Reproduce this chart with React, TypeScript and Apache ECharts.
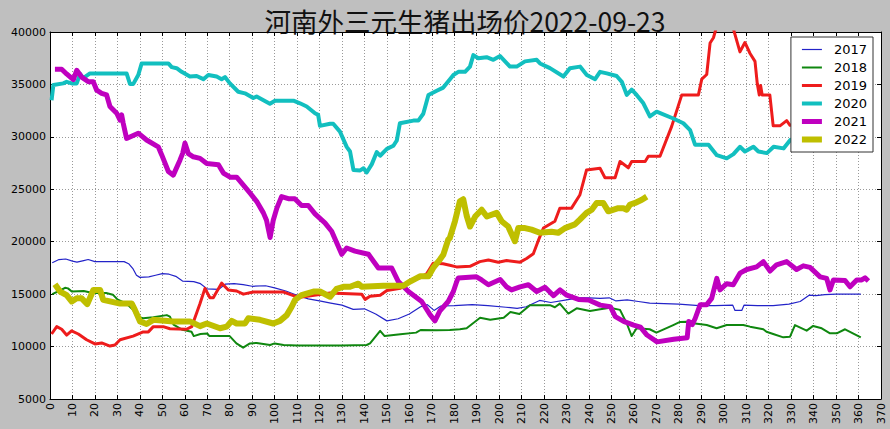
import React, { useEffect, useRef } from "react";
import * as echarts from "echarts";

// Daily pig price (元/吨) in Henan, indexed by day of year: [day, price]
const years = ["2017", "2018", "2019", "2020", "2021", "2022"];

const price2017: [number, number][] = [
  [1, 18000], [4, 18300], [7, 18350], [10, 18150], [12, 18050], [15, 18200], [17, 18300], [20, 18100],
  [25, 18100], [30, 18100], [33, 18100], [35, 17900], [37, 17400], [38.5, 16800], [40, 16600], [44, 16650],
  [47, 16800], [50, 16950], [53, 16900], [56, 16700], [59, 16250], [64, 16200], [67, 16000], [70, 15500],
  [75, 15450], [78, 15950], [82, 16000], [86, 15900], [90, 15750], [96, 15800], [100, 15600], [105, 15300],
  [110, 14900], [115, 14550], [120, 14350], [125, 14150], [130, 13950], [135, 13550], [140, 13600],
  [145, 13100], [150, 12450], [155, 12650], [160, 13100], [165, 13800], [168, 14000], [171, 13450],
  [174, 13870], [180, 13900], [188, 14000], [195, 13900], [203, 13750], [208, 13650], [212, 13800],
  [218, 14400], [223, 14200], [230, 14450], [235, 14650], [240, 14650], [245, 14600], [249, 14650],
  [252, 14350], [257, 14450], [262, 14300], [267, 14150], [280, 14050], [289, 13900], [296, 13900],
  [304, 13950], [305, 13450], [308, 13450], [309, 13950], [315, 13900], [322, 13900], [329, 14050],
  [334, 14300], [338, 14900], [341, 14850], [345, 14950], [350, 15000], [361, 15000],
];

const price2018: [number, number][] = [
  [1, 15000], [4, 15300], [6.7, 15600], [8, 15550], [9.7, 15250], [15, 15300], [19, 15100], [25, 15100],
  [28, 14950], [30, 14500], [34, 14100], [37, 13500], [38.6, 12850], [41.5, 12700], [46, 12800], [52, 13000],
  [53.4, 12850], [55, 12100], [59, 11600], [63, 11420], [64, 11000], [67, 11200], [70, 11250], [71, 11000],
  [80, 11000], [83, 10300], [86, 9900], [89, 10300], [92, 10350], [98, 10150], [100, 10300], [104, 10150],
  [110, 10100], [120, 10100], [130, 10100], [141, 10150], [142.5, 10300], [147, 11500], [149, 11000],
  [156, 11170], [163, 11330], [165, 11580], [172, 11550], [178, 11580], [182.5, 11650], [185.5, 11750],
  [191.5, 12750], [196, 12550], [202, 12750], [205, 13300], [209, 13100], [213.7, 13950], [222.6, 13950],
  [224.8, 13750], [227, 14100], [230.8, 13150], [234.5, 13650], [240.4, 13400], [245, 13550],
  [249.3, 13700], [253.8, 13500], [256.8, 12200], [259, 11000], [261.2, 11750], [267, 11650],
  [270, 11330], [277.5, 12050], [280.5, 12350], [283.4, 12370], [286.4, 12220], [292.4, 12060],
  [296.8, 11750], [301.3, 12050], [308.7, 12050], [311.7, 11900], [317.6, 11650], [319, 11420],
  [322, 11200], [326.5, 10880], [329.5, 10940], [331.7, 12050], [336.9, 11520], [339.8, 11970],
  [343.6, 11740], [347.3, 11260], [350.3, 11260], [354, 11650], [361, 10880],
];

const price2019: [number, number][] = [
  [0.7, 11200], [3, 11900], [5.2, 11650], [7.4, 11100], [9.6, 11500], [12.6, 11200], [16.3, 10650],
  [20, 10250], [23, 10350], [26.7, 10050], [28.9, 10150], [31.2, 10650], [37, 11000], [41.5, 11400],
  [43.8, 11400], [46, 11900], [50.4, 11900], [53.4, 11700], [60.8, 11650], [63.1, 11900], [66.8, 14100],
  [69, 15550], [71.2, 14650], [72.7, 14650], [76.4, 16050], [79.4, 15400], [83.1, 15300], [86.1, 15000],
  [90.5, 15200], [104, 15200], [108.4, 14850], [111.3, 14700], [124.7, 15100], [138.8, 15000],
  [140.3, 14500], [142.5, 14800], [147, 14900], [150, 15350], [156, 15550], [160.3, 16300],
  [164.7, 16550], [167.7, 16950], [170.6, 17950], [175, 17900], [178, 17750], [181, 17600], [187, 17650],
  [191.4, 18100], [195.2, 18250], [199.6, 18050], [203.3, 18200], [209.3, 18050], [212.2, 18400],
  [215.2, 18850], [217.4, 20100], [219.7, 21300], [224.8, 21950], [227, 23200], [232.2, 23200],
  [235.9, 24450], [238.9, 26850], [244.9, 27000], [247.1, 26100], [251.6, 26100], [253.8, 27650],
  [257.5, 27050], [259, 27650], [265, 27650], [266.4, 28150], [271.6, 28150], [276.8, 31000],
  [281.3, 34000], [288.7, 34000], [290.2, 35500], [292.4, 35950], [293.9, 38950], [295.4, 39450],
  [296.8, 40500], [304, 40500], [307.2, 38100], [309.4, 39000], [311.7, 37950], [313.9, 37200],
  [314.9, 35100], [315.8, 34000], [316.4, 34900], [317.1, 34000], [320.5, 34000], [322, 31050],
  [325, 31050], [328, 31550], [329.5, 31100], [335, 31200], [345, 31300],
];

const price2020: [number, number][] = [
  [0.7, 33500], [1.5, 34950], [5.9, 35100], [7.4, 35250], [9.7, 35100], [11.9, 35100], [13.4, 36000],
  [14.8, 35600], [17.8, 36050], [34.1, 36050], [35.6, 35050], [37.1, 35050], [39.3, 35900], [40.8, 37000],
  [52.7, 37000], [54.2, 36650], [56.4, 36550], [58.6, 36200], [62.3, 35750], [65.3, 35800], [68.3, 35500],
  [70.5, 35900], [74.2, 35750], [76.4, 35500], [77.9, 35700], [80.1, 35100], [83.8, 34300], [86.8, 34150],
  [90.5, 33700], [92, 33850], [97.9, 33150], [100.2, 33450], [108.4, 33450], [111.3, 33200],
  [114.3, 32900], [118, 32250], [119.4, 32100], [120.2, 31050], [124.7, 31250], [126.1, 31250],
  [129.1, 30500], [132.1, 29050], [133.6, 28600], [135.1, 26850], [138.1, 26800], [139.6, 27000],
  [141, 26600], [143.3, 27400], [145.5, 28550], [147, 28200], [150, 28850], [152.9, 29150],
  [154.4, 29650], [155.8, 31300], [161.8, 31550], [164, 31550], [166.2, 32200], [168.5, 34000],
  [172.2, 34400], [175.1, 34700], [178.1, 35500], [179.6, 35900], [181.8, 36200], [184.8, 36200],
  [187, 36700], [188.5, 37800], [190.7, 37500], [194.4, 37600], [197.4, 37350], [200.4, 37700],
  [204.8, 36700], [207.8, 36700], [211.5, 37200], [216.7, 37350], [218.2, 37000], [222.6, 36550],
  [228.6, 35750], [231.5, 36550], [236, 36700], [239, 35900], [242.7, 35500], [244.9, 36200],
  [247.9, 36050], [252.3, 35800], [254.6, 35250], [256.8, 34000], [259, 34500], [261.2, 34000],
  [264.2, 33200], [267.1, 31950], [270.1, 32400], [277.5, 31750], [282, 31300], [285, 30650],
  [287.2, 29250], [289.4, 29250], [293.2, 29250], [296.9, 28250], [301.3, 27950], [304.3, 28350],
  [307.2, 29050], [309.4, 28600], [313.2, 29050], [315.4, 28600], [319.2, 28450], [322.2, 29050],
  [326.6, 28900], [329.6, 29700], [335, 30000], [345, 30200],
];

const price2021: [number, number][] = [
  [2.2, 36450], [5.2, 36450], [7.4, 36000], [10.4, 35450], [11.9, 36350], [14.1, 35700], [17.1, 35250],
  [19.3, 35250], [20.8, 34450], [23, 34150], [25.2, 34000], [26.7, 32900], [29.7, 32250], [31.2, 31600],
  [31.9, 32100], [32.6, 31300], [34.1, 29850], [39.3, 30350], [43, 29700], [48.2, 29050], [49.7, 28300],
  [52.7, 26700], [54.9, 26350], [57.9, 27800], [59.1, 28450], [60.1, 29400], [61.6, 28400], [63.8, 28100],
  [66.8, 27950], [69.8, 27450], [75, 27350], [77.2, 26550], [80.2, 26150], [83.1, 26150], [86.1, 25400],
  [89, 24650], [92, 23850], [95, 22750], [96.4, 22050], [98, 20400], [99.4, 22050], [101, 23200],
  [103.1, 24300], [106.1, 24100], [109, 24100], [112, 23450], [115, 23450], [118, 22650], [122.4, 21800],
  [125.4, 21000], [129.9, 18800], [132.1, 19400], [135.8, 19100], [141.8, 18800], [146.2, 17500],
  [152.1, 17500], [155.1, 16200], [159.6, 15250], [165.5, 14300], [169.2, 13050], [171.4, 12450],
  [173.6, 13400], [177.3, 14300], [179.6, 15250], [181.1, 16200], [181.8, 16550], [189.9, 16650],
  [192.2, 16350], [195.2, 15900], [200.4, 16400], [203.3, 15700], [205.5, 15400], [209.3, 15700],
  [213, 15900], [216.7, 15250], [220.4, 15650], [224.2, 14850], [227.1, 15400], [230.1, 14900],
  [235.3, 14500], [239.8, 14450], [245, 13950], [249.5, 13800], [251.7, 12850], [255.4, 12400],
  [259.9, 12050], [262.9, 11850], [265.8, 11100], [270.3, 10450], [277.7, 10700], [283.7, 10850],
  [284.4, 12400], [286, 12100], [287.3, 12700], [289.5, 14000], [292.4, 14000], [294.6, 14600],
  [296.9, 16500], [298.3, 15400], [301.3, 16000], [304.2, 15900], [307.2, 17000], [310.2, 17350],
  [314.6, 17600], [317.6, 18100], [320.6, 17200], [323.5, 17800], [328, 18100], [332.4, 17350],
  [335.4, 17700], [338.4, 17550], [342.9, 16650], [345.8, 16500], [347.3, 15400], [348.8, 16350],
  [354, 16300], [356.2, 15700], [359.2, 16350], [361.4, 16350], [362.9, 16550], [364.4, 16250],
];

const price2022: [number, number][] = [
  [2.2, 15950], [4.5, 15250], [7.4, 14900], [9.7, 14300], [11.9, 14600], [14.1, 14600], [16.6, 14050],
  [19.3, 15400], [22.3, 15400], [23.7, 14450], [31.2, 14100], [36.4, 14100], [37.8, 13500], [40.1, 12400],
  [43, 12150], [46, 12550], [54.9, 12400], [62.3, 12400], [66.8, 11950], [69.8, 12200], [75.7, 11750],
  [78.7, 11900], [80.9, 12450], [83.1, 12200], [86.8, 12200], [88.3, 12700], [93.5, 12550], [99.4, 12200],
  [102.4, 12450], [105.4, 13000], [107.6, 13800], [109.1, 14450], [112, 14900], [117.3, 15250],
  [120.2, 15250], [124.7, 14750], [127.6, 15500], [130.6, 15700], [133.6, 15700], [137.3, 16000],
  [138.8, 15700], [148.4, 15800], [157.4, 15800], [160.3, 16200], [164.7, 16700], [168.5, 16700],
  [170.6, 17500], [173.6, 18300], [175.1, 18750], [177.3, 20200], [178, 20350], [180.3, 21950],
  [182.5, 23850], [184, 24050], [185.5, 22500], [187, 21450], [189.3, 22400], [192.2, 23050],
  [194.5, 22400], [198.9, 22750], [201.1, 21950], [204, 21450], [207, 20050], [208.5, 21300],
  [211.5, 21300], [214.4, 21150], [218.1, 20850], [223.3, 20950], [226.3, 20850], [229.3, 21300],
  [233.7, 21650], [235.9, 22100], [238.9, 22750], [241.2, 23050], [243.4, 23700], [246.3, 23700],
  [248.6, 22900], [253, 23200], [255.3, 23200], [256.8, 23050], [258.3, 23550], [260.5, 23700],
  [263.5, 24000], [265.7, 24300],
];

const seriesData = [price2017, price2018, price2019, price2020, price2021, price2022];
const lineColors = ["#2323c8", "#0f870f", "#ee1c1c", "#12bfbf", "#bf00bf", "#bfbf00"];
const lineWidths = [1.2, 2, 3, 4, 5, 6];

const titleText = "河南外三元生猪出场价2022-09-23";
const xTicks = { min: 0, max: 370, interval: 10 };
const yTicks = { min: 5000, max: 40000, interval: 5000 };

const tickFont = "DejaVu Sans";

export default function App() {
  const ref = useRef<HTMLDivElement>(null);

  useEffect(() => {
    if (!ref.current) return;
    const chart = echarts.init(ref.current, undefined, { renderer: "svg" });

    const spine = { show: true, onZero: false, lineStyle: { color: "#000", width: 1 } };
    const tick = { show: true, inside: true, length: 4, lineStyle: { color: "#000", width: 1 } };
    const grid = { show: true, lineStyle: { color: "#999", width: 1, type: [1, 2] } };

    chart.setOption({
      animation: false,
      backgroundColor: "#bfbfbf",
      grid: {
        left: 50, right: 9, top: 32, bottom: 30,
        show: true, backgroundColor: "#ffffff", borderWidth: 0,
      },
      graphic: [
        {
          type: "text",
          x: 465,
          y: 20,
          style: {
            text: titleText,
            fill: "#111",
            font: '26.5px "Noto Sans CJK SC", "DejaVu Sans", sans-serif',
            textAlign: "center",
            textVerticalAlign: "middle",
          },
        },
      ],
      legend: {
        orient: "vertical",
        right: 17,
        top: 37,
        data: years,
        padding: [6, 6, 6, 8],
        itemGap: 5,
        itemWidth: 20,
        itemHeight: 8,
        backgroundColor: "#ffffff",
        borderColor: "#333",
        borderWidth: 1,
        borderRadius: 0,
        lineStyle: { width: "inherit" },
        itemStyle: { opacity: 0 },
        textStyle: { fontFamily: tickFont, fontSize: 13, color: "#000", padding: [0, 0, 0, 7] },
        selectedMode: false,
      },
      xAxis: [
        {
          type: "value",
          position: "bottom",
          ...xTicks,
          axisLine: spine,
          axisTick: tick,
          splitLine: grid,
          axisLabel: {
            rotate: 90,
            margin: 4,
            fontFamily: tickFont,
            fontSize: 11,
            color: "#000",
            showMinLabel: true,
            showMaxLabel: true,
            formatter: (v: number) => String(v),
          },
        },
        {
          type: "value",
          position: "top",
          ...xTicks,
          axisLine: spine,
          axisTick: tick,
          splitLine: { show: false },
          axisLabel: { show: false },
        },
      ],
      yAxis: [
        {
          type: "value",
          position: "left",
          ...yTicks,
          axisLine: spine,
          axisTick: tick,
          splitLine: grid,
          axisLabel: {
            margin: 4,
            fontFamily: tickFont,
            fontSize: 11,
            color: "#000",
            showMinLabel: true,
            showMaxLabel: true,
            formatter: (v: number) => String(v),
          },
        },
        {
          type: "value",
          position: "right",
          ...yTicks,
          axisLine: spine,
          axisTick: tick,
          splitLine: { show: false },
          axisLabel: { show: false },
        },
      ],
      series: years.map((name, i) => ({
        name,
        type: "line",
        xAxisIndex: 0,
        yAxisIndex: 0,
        data: seriesData[i],
        symbol: "none",
        showSymbol: false,
        clip: true,
        color: lineColors[i],
        lineStyle: { color: lineColors[i], width: lineWidths[i], join: "round", cap: "butt" },
        emphasis: { disabled: true },
      })),
    });

    return () => chart.dispose();
  }, []);

  return (
    <div
      ref={ref}
      style={{ position: "fixed", left: 0, top: 0, width: 890, height: 429 }}
    />
  );
}
